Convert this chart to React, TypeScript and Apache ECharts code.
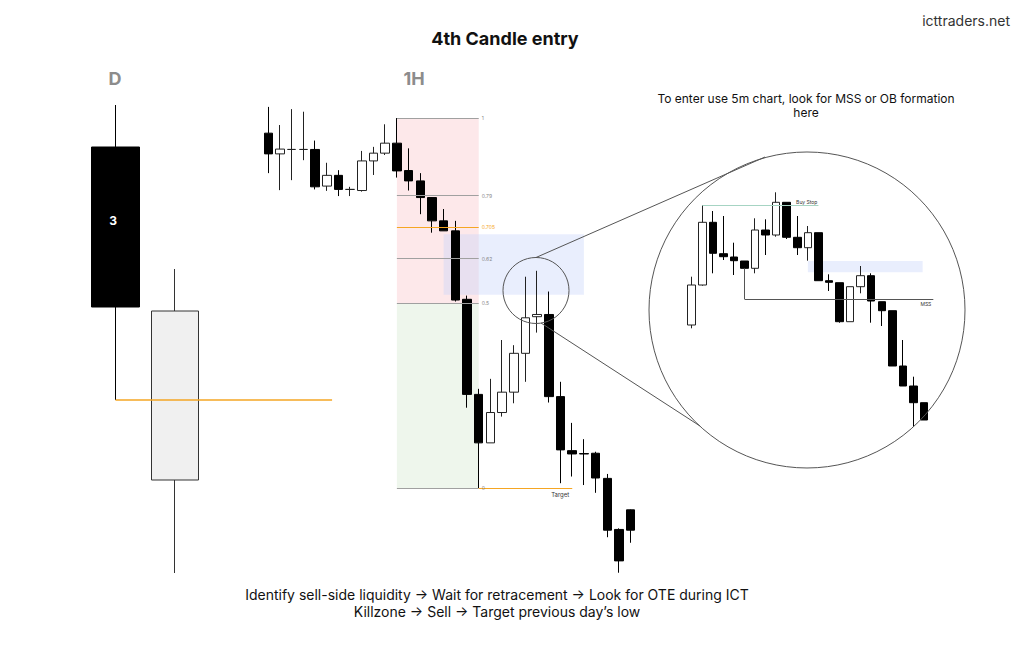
import React, { useEffect, useRef } from 'react';
import * as echarts from 'echarts';

// ---------- Daily (D) candles: [open, close, low, high] ----------
const dailyIndex = [0, 1];
const dailyCandles = [
  [453, 293, 200, 495],
  [120, 289, 27, 331],
];
const dailyLowLevel = 200;
const dailyLowLineEnd = 3.64;

// ---------- 1H candles: [open, close, low, high] in fib units (0 = swing low, 100 = swing high) ----------
const hourlyCandles = [
  [95.9, 90.3, 85.1, 103.0],
  [90.3, 91.6, 80.5, 98.1],
  [91.5, 91.5, 83.2, 102.4],
  [91.5, 91.5, 88.6, 101.7],
  [91.5, 81.4, 80.7, 93.9],
  [81.6, 84.5, 80.3, 87.9],
  [84.5, 80.7, 78.9, 85.9],
  [80.7, 80.7, 78.9, 81.4],
  [80.4, 88.4, 80.1, 91.1],
  [88.4, 90.5, 84.6, 92.2],
  [90.5, 93.2, 90.0, 98.3],
  [93.2, 85.7, 83.9, 100],
  [85.8, 83.0, 80.4, 91.8],
  [83.0, 78.5, 74.0, 85.1],
  [78.5, 72.2, 69.0, 78.6],
  [72.2, 69.5, 69.5, 75.4],
  [69.5, 50.8, 50.4, 72.2],
  [51.0, 25.3, 21.7, 52.0],
  [25.3, 12.2, 0, 26.8],
  [12.2, 20.4, 12.2, 29.5],
  [20.4, 25.9, 19.3, 40.0],
  [25.9, 36.4, 22.9, 38.6],
  [36.4, 46.0, 28.7, 57.1],
  [46.3, 46.9, 42.0, 58.7],
  [46.9, 24.7, 23.1, 53.1],
  [24.7, 10.3, 1.3, 28.7],
  [10.1, 9.2, 3.1, 17.6],
  [9.3, 9.2, 0.8, 13.2],
  [9.4, 2.7, -1.3, 9.8],
  [2.6, -11.4, -13.3, 3.8],
  [-11.2, -19.7, -22.9, -10.9],
  [-5.9, -11.4, -14.8, -5.8],
];
const fibLevels = [100, 79, 70.5, 62, 50, 0];
const fibLabels = ['1', '0.79', '0.705', '0.62', '0.5', '0'];
const fibRange = [11, 18];
const oteZoneX = [15, 27];
const oteZoneY = [52.2, 68.6];
const targetRange = [18, 26];
const targetLevel = 0;

// ---------- 5m candles (inset): [open, close, low, high] ----------
const m5Candles = [
  [135, 175, 131.7, 183.3],
  [175, 237.7, 174.3, 255],
  [237.7, 206.7, 186.7, 249],
  [206.3, 203.3, 200, 244],
  [203, 199.3, 185, 217.3],
  [199, 191.7, 191.7, 199],
  [191.7, 230, 186.7, 241.7],
  [230, 225, 205, 240.7],
  [225, 257.7, 223.3, 267.7],
  [257.7, 222.7, 221, 257.7],
  [222.7, 212.3, 205, 244],
  [212.3, 227.3, 199.3, 234],
  [227.3, 179.3, 179.3, 227.3],
  [179.3, 177.7, 169, 185.7],
  [177.3, 138.3, 137.3, 177.3],
  [138.3, 173.3, 138.3, 173.3],
  [173.3, 184.3, 166.7, 194],
  [184.3, 159, 137.3, 186.7],
  [158.3, 149.3, 134, 158.3],
  [149.3, 94, 94, 149.3],
  [94, 74, 74, 120],
  [74, 57.3, 33.3, 83.3],
  [57.3, 40, 40, 57.3],
];
const buyStopLevel = 255;
const buyStopRange = [1, 12];
const mssLevel = 161;
const mssStart = 5;
const mssStartPrice = 191.7;
const mssEnd = 22.88;
const obZoneX = [11, 21.87];
const obZoneY = [187.7, 199];

const FONT = 'Inter, "Noto Sans", sans-serif';
const ORANGE = '#f5a623';
const FIBGRAY = '#a0a0a0';

const toSeriesData = (rows: number[][], xs?: number[]) =>
  rows.map((r, i) => [xs ? xs[i] : i, r[0], r[1], r[2], r[3]]);

export default function App() {
  const ref = useRef<HTMLDivElement>(null);

  useEffect(() => {
    if (!ref.current) return;
    const chart = echarts.init(ref.current, undefined, { renderer: 'svg' });

    const hiddenX = (min: number, max: number, gridIndex: number) => ({
      type: 'value', gridIndex, min, max, show: false,
      splitLine: { show: false },
    });
    const hiddenY = (min: number, max: number, gridIndex: number) => ({
      type: 'value', gridIndex, min, max, show: false, scale: true,
      splitLine: { show: false },
    });

    const fibLines = fibLevels.map((lv, i) => [
      {
        coord: [fibRange[0], lv],
        lineStyle: { color: i === 2 ? ORANGE : FIBGRAY, width: 1.2, type: 'solid' },
        label: {
          show: true, position: 'end', distance: 3, formatter: fibLabels[i],
          fontSize: 5, fontFamily: FONT, color: i === 2 ? ORANGE : '#888',
        },
      },
      { coord: [fibRange[1], lv] },
    ]);

    const option: any = {
      animation: false,
      backgroundColor: '#ffffff',
      grid: [
        { left: 85.75, top: 0, width: 249.9, height: 600, containLabel: false },
        { left: 262.455, top: 7, width: 374.08, height: 592, containLabel: false },
        { left: 686.42, top: 0, width: 253.44, height: 460, containLabel: false },
      ],
      xAxis: [hiddenX(-0.5, 3.7, 0), hiddenX(-0.5, 31.5, 1), hiddenX(-0.5, 23.5, 2)],
      yAxis: [hiddenY(0, 600, 0), hiddenY(-30, 130, 1), hiddenY(0, 460, 2)],
      series: [
        {
          type: 'candlestick',
          name: 'D',
          xAxisIndex: 0, yAxisIndex: 0,
          barWidth: 48,
          encode: { x: 0, y: [1, 2, 3, 4] },
          data: toSeriesData(dailyCandles, dailyIndex),
          itemStyle: {
            color: '#f0f0f0', color0: '#000000',
            borderColor: '#333333', borderColor0: '#000000', borderColorDoji: '#000000',
            borderWidth: 1,
          },
          markLine: {
            silent: true, symbol: 'none', animation: false,
            data: [[
              { coord: [dailyIndex[0], dailyLowLevel], lineStyle: { color: ORANGE, width: 1.5, type: 'solid' }, label: { show: false } },
              { coord: [dailyLowLineEnd, dailyLowLevel] },
            ]],
          },
        },
        {
          type: 'candlestick',
          name: '1H',
          xAxisIndex: 1, yAxisIndex: 1,
          barWidth: 9,
          encode: { x: 0, y: [1, 2, 3, 4] },
          data: toSeriesData(hourlyCandles),
          itemStyle: {
            color: '#ffffff', color0: '#000000',
            borderColor: '#222222', borderColor0: '#000000', borderColorDoji: '#222222',
            borderWidth: 1,
          },
          markArea: {
            silent: true,
            data: [
              [{ coord: [fibRange[0], fibLevels[4]], itemStyle: { color: '#fde8ea' } }, { coord: [fibRange[1], fibLevels[0]] }],
              [{ coord: [fibRange[0], fibLevels[5]], itemStyle: { color: '#eef6ec' } }, { coord: [fibRange[1], fibLevels[4]] }],
              [{ coord: [oteZoneX[0], oteZoneY[0]], itemStyle: { color: 'rgba(200,212,250,0.4)' } }, { coord: [oteZoneX[1], oteZoneY[1]] }],
            ],
          },
          markLine: {
            silent: true, symbol: 'none', animation: false,
            data: [
              ...fibLines,
              [
                {
                  coord: [targetRange[0], targetLevel],
                  lineStyle: { color: ORANGE, width: 1.2, type: 'solid' },
                  label: {
                    show: true, position: 'insideEndBottom', distance: 3, formatter: 'Target',
                    fontSize: 6, fontFamily: FONT, color: '#333',
                  },
                },
                { coord: [targetRange[1], targetLevel] },
              ],
            ],
          },
        },
        {
          type: 'candlestick',
          name: '5m',
          xAxisIndex: 2, yAxisIndex: 2,
          barWidth: 8,
          encode: { x: 0, y: [1, 2, 3, 4] },
          data: toSeriesData(m5Candles),
          itemStyle: {
            color: '#ffffff', color0: '#000000',
            borderColor: '#222222', borderColor0: '#000000', borderColorDoji: '#222222',
            borderWidth: 1,
          },
          markArea: {
            silent: true,
            data: [
              [{ coord: [obZoneX[0], obZoneY[0]], itemStyle: { color: 'rgba(200,212,250,0.4)' } }, { coord: [obZoneX[1], obZoneY[1]] }],
            ],
          },
          markLine: {
            silent: true, symbol: 'none', animation: false,
            data: [
              [
                {
                  coord: [buyStopRange[0], buyStopLevel],
                  lineStyle: { color: '#a6d4c3', width: 1, type: 'solid' },
                  label: {
                    show: true, position: 'insideEndTop', distance: 1, formatter: 'Buy Stop',
                    fontSize: 5, fontFamily: FONT, color: '#333',
                  },
                },
                { coord: [buyStopRange[1], buyStopLevel] },
              ],
              [
                { coord: [mssStart, mssStartPrice], lineStyle: { color: '#555', width: 1, type: 'solid' }, label: { show: false } },
                { coord: [mssStart, mssLevel] },
              ],
              [
                {
                  coord: [mssStart, mssLevel],
                  lineStyle: { color: '#555', width: 1, type: 'solid' },
                  label: {
                    show: true, position: 'insideEndBottom', distance: 2, formatter: 'MSS',
                    fontSize: 5, fontFamily: FONT, color: '#333',
                  },
                },
                { coord: [mssEnd, mssLevel] },
              ],
            ],
          },
        },
      ],
      graphic: [
        {
          type: 'text', x: 505, y: 38, silent: true,
          style: { text: '4th Candle entry', fontFamily: FONT, fontSize: 18, fontWeight: 'bold', fill: '#111', align: 'center', verticalAlign: 'middle' },
        },
        {
          type: 'text', x: 1010, y: 20, silent: true,
          style: { text: 'icttraders.net', fontFamily: FONT, fontSize: 14, fill: '#333', align: 'right', verticalAlign: 'middle' },
        },
        {
          type: 'text', x: 115, y: 78, silent: true,
          style: { text: 'D', fontFamily: FONT, fontSize: 18, fontWeight: 'bold', fill: '#8c8c8c', align: 'center', verticalAlign: 'middle' },
        },
        {
          type: 'text', x: 414, y: 78, silent: true,
          style: { text: '1H', fontFamily: FONT, fontSize: 18, fontWeight: 'bold', fill: '#8c8c8c', align: 'center', verticalAlign: 'middle' },
        },
        {
          type: 'text', x: 113, y: 220, silent: true, z: 100,
          style: { text: '3', fontFamily: FONT, fontSize: 12, fontWeight: 'bold', fill: '#ffffff', align: 'center', verticalAlign: 'middle' },
        },
        {
          type: 'text', x: 806, y: 105, silent: true,
          style: {
            text: 'To enter use 5m chart, look for MSS or OB formation\nhere',
            fontFamily: FONT, fontSize: 12, lineHeight: 14, fill: '#111', align: 'center', verticalAlign: 'middle',
          },
        },
        {
          type: 'text', x: 497, y: 602.5, silent: true,
          style: {
            text: 'Identify sell-side liquidity \u2192 Wait for retracement \u2192 Look for OTE during ICT\nKillzone \u2192 Sell \u2192 Target previous day\u2019s low',
            fontFamily: FONT, fontSize: 14, lineHeight: 17, fill: '#111', align: 'center', verticalAlign: 'middle',
          },
        },
        {
          type: 'circle', silent: true, z: 50,
          shape: { cx: 536, cy: 290.5, r: 33 },
          style: { fill: 'none', stroke: '#555', lineWidth: 1 },
        },
        {
          type: 'circle', silent: true, z: 50,
          shape: { cx: 807, cy: 310, r: 158 },
          style: { fill: 'none', stroke: '#555', lineWidth: 1 },
        },
        {
          type: 'line', silent: true, z: 50,
          shape: { x1: 536, y1: 257.5, x2: 765, y2: 157 },
          style: { stroke: '#555', lineWidth: 1 },
        },
        {
          type: 'line', silent: true, z: 50,
          shape: { x1: 541, y1: 323, x2: 700, y2: 426 },
          style: { stroke: '#555', lineWidth: 1 },
        },
      ],
    };

    chart.setOption(option);
    return () => chart.dispose();
  }, []);

  return (
    <div
      ref={ref}
      style={{ position: 'fixed', left: 0, top: 0, width: 1024, height: 662, background: '#fff' }}
    />
  );
}
